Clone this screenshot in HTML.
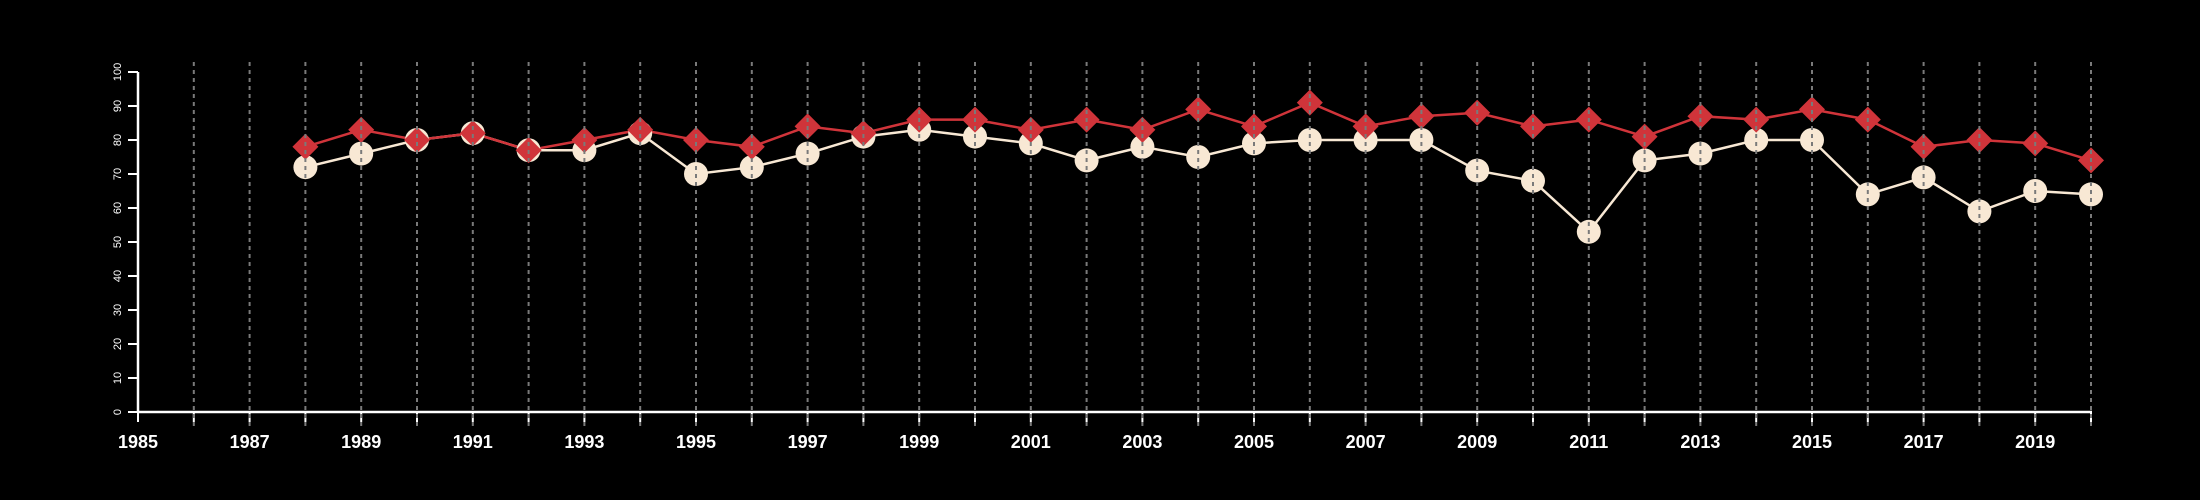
<!DOCTYPE html>
<html><head><meta charset="utf-8"><style>
html,body{margin:0;padding:0;background:#000;width:2200px;height:500px;overflow:hidden}
text{font-family:"Liberation Sans",sans-serif;fill:#fff}
</style></head><body>
<svg id="s" width="2200" height="500" xmlns="http://www.w3.org/2000/svg"></svg>
<script>
const c=[72,76,80,82,77,77,82,70,72,76,81,83,81,79,74,78,75,79,80,80,80,71,68,53,74,76,80,80,64,69,59,65,64];
const d=[78,83,80,82,77,80,83,80,78,84,82,86,86,83,86,83,89,84,91,84,87,88,84,86,81,87,86,89,86,78,80,79,74];
const X=y=>138+(y-1985)*55.8, Y=v=>412-v*3.4;
let h='';
h+='<line x1="138" y1="72" x2="138" y2="413" stroke="#fff" stroke-width="2.5"/>';
h+='<line x1="137" y1="412" x2="2092" y2="412" stroke="#fff" stroke-width="2.5"/>';
for(let v=0;v<=100;v+=10){let y=Y(v);h+=`<line x1="128" y1="${y}" x2="138" y2="${y}" stroke="#fff" stroke-width="2"/>`;
h+=`<text transform="translate(121,${y}) rotate(-90)" font-size="11" text-anchor="middle">${v}</text>`;}
for(let yr=1985;yr<=2020;yr++){let x=X(yr);h+=`<line x1="${x}" y1="412" x2="${x}" y2="422" stroke="#fff" stroke-width="2"/>`;
if(yr%2==1)h+=`<text x="${x}" y="448" font-size="18" font-weight="bold" text-anchor="middle">${yr}</text>`;}
let pc='',pd='';c.forEach((v,i)=>pc+=`${X(1988+i)},${Y(v)} `);d.forEach((v,i)=>pd+=`${X(1988+i)},${Y(v)} `);
h+=`<polyline points="${pc}" fill="none" stroke="#f8e8d4" stroke-width="2.5"/>`;
h+=`<polyline points="${pd}" fill="none" stroke="#d0343a" stroke-width="2.5"/>`;
c.forEach((v,i)=>h+=`<circle cx="${X(1988+i)}" cy="${Y(v)}" r="12" fill="#f8e8d4"/>`);
d.forEach((v,i)=>{let x=X(1988+i),y=Y(v);h+=`<polygon points="${x},${y-13} ${x+13},${y} ${x},${y+13} ${x-13},${y}" fill="#d0343a"/>`;});
for(let yr=1986;yr<=2020;yr++){let x=X(yr);h+=`<line x1="${x}" y1="62" x2="${x}" y2="428" stroke="#7a7a7a" stroke-width="2" stroke-dasharray="4,4"/>`;}
document.getElementById('s').innerHTML=h;
</script>
</body></html>
